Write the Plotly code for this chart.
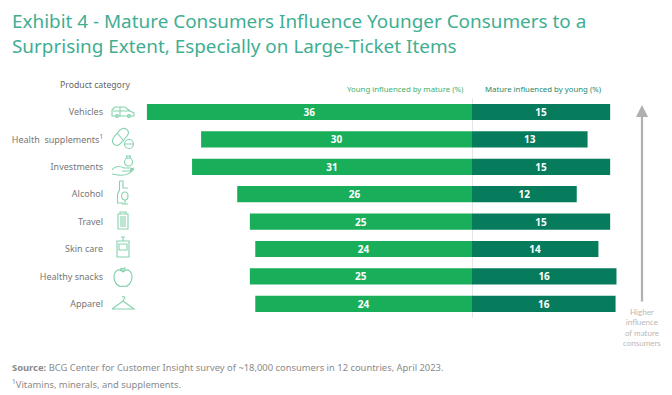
import plotly.graph_objects as go

W, H = 672, 395
categories = ["Vehicles", "Health  supplements<sup>1</sup>", "Investments", "Alcohol", "Travel", "Skin care", "Healthy snacks", "Apparel"]
young_by_mature = [36, 30, 31, 26, 24.6, 24, 24.6, 24]
mature_by_young = [15.3, 12.8, 15.3, 11.6, 15.3, 14, 16, 15.9]
title = "Exhibit 4 - Mature Consumers Influence Younger Consumers to a<br>Surprising Extent, Especially on Large-Ticket Items"
source = "<b>Source:</b> BCG Center for Customer Insight survey of ~18,000 consumers in 12 countries, April 2023."
note = "<sup>1</sup>Vitamins, minerals, and supplements."

FONT = "Noto Sans"
CX, PXU = 472.0, 9.03
PL, PR, PT, PB = 130.0, 632.0, 98.3, 317.5
GREEN, DARK = "#18AE5A", "#067C5C"
ICON = "#86D2AE"


def px(x):
    return x / W


def py(y):
    return 1 - y / H


def path(cmds):
    """Decoration helper: pixel-space outline -> paper coordinates."""
    out = []
    for c in cmds:
        op, pts = c[0], c[1:]
        s = op
        s += " ".join(f"{px(pts[i]):.5f},{py(pts[i + 1]):.5f}" for i in range(0, len(pts), 2))
        out.append(s)
    return " ".join(out)


def circle(cx, cy, r):
    k = r * 0.5523
    return [("M", cx - r, cy), ("C", cx - r, cy - k, cx - k, cy - r, cx, cy - r),
            ("C", cx + k, cy - r, cx + r, cy - k, cx + r, cy),
            ("C", cx + r, cy + k, cx + k, cy + r, cx, cy + r),
            ("C", cx - k, cy + r, cx - r, cy + k, cx - r, cy), ("Z",)]


icons = [
    # car
    [("M", 112, 116), ("L", 112, 110), ("L", 115, 107), ("L", 125, 107), ("L", 130, 111), ("L", 134, 113), ("L", 134, 116), ("Z",),
     ("M", 113, 111), ("L", 130, 111), ("M", 120, 107), ("L", 120, 116)] + circle(117, 116, 1.5) + circle(129, 116, 1.5),
    # pill
    [("M", 114, 137), ("L", 120, 130), ("C", 125, 126, 131, 131, 127, 136), ("L", 120, 144),
     ("C", 115, 148, 110, 142, 114, 137), ("Z",), ("M", 117, 133), ("L", 124, 141)]
    + circle(129, 144, 4.5) + [("M", 125, 144), ("L", 133, 144)],
    # hand + money bag
    [("M", 112, 170), ("C", 116, 165, 120, 166, 124, 168), ("L", 130, 168), ("C", 133, 168, 133, 171, 130, 171),
     ("L", 122, 171), ("M", 130, 170), ("L", 134, 168), ("M", 134, 169), ("C", 130, 174, 124, 176, 118, 175), ("L", 112, 174)]
    + circle(128.5, 162, 4) + [("M", 127, 158), ("L", 126.5, 156), ("L", 130.5, 156), ("L", 130, 158)],
    # bottle + glass
    [("M", 119.5, 181), ("L", 123, 181), ("L", 123, 188), ("L", 128, 188), ("M", 119.5, 181), ("L", 119.5, 190),
     ("L", 117.5, 194), ("L", 117.5, 203), ("L", 123, 203), ("M", 125, 192), ("C", 120, 192, 121, 200, 125, 200),
     ("C", 129, 200, 129, 192, 125, 192), ("M", 125, 200), ("L", 125, 204), ("M", 122, 204), ("L", 128, 204)],
    # suitcase
    [("M", 118, 214), ("L", 128, 214), ("L", 128, 229), ("L", 118, 229), ("Z",), ("M", 120, 214), ("L", 120, 212), ("L", 126, 212), ("L", 126, 214),
     ("M", 121, 216), ("L", 121, 227), ("M", 123, 216), ("L", 123, 227), ("M", 125, 216), ("L", 125, 227)],
    # skin care
    [("M", 117, 241), ("L", 129, 241), ("L", 129, 257), ("L", 117, 257), ("Z",), ("M", 119, 244), ("L", 127, 244), ("L", 127, 250), ("L", 119, 250), ("Z",),
     ("M", 123, 241), ("L", 123, 237), ("M", 121, 237), ("L", 125, 237)],
    # apple
    [("M", 123, 272), ("C", 118, 267, 114, 272, 114, 277), ("C", 114, 283, 119, 288, 123, 286), ("C", 127, 288, 132, 283, 132, 277),
     ("C", 132, 272, 128, 267, 123, 272), ("M", 123, 272), ("L", 121, 268), ("M", 123, 272), ("L", 125, 268), ("L", 120, 269)],
    # hanger
    [("M", 112, 309), ("L", 134, 309), ("L", 123, 301), ("L", 112, 309), ("M", 123, 301), ("L", 124, 299), ("C", 126, 297, 124, 296, 122, 297)],
]

fig = go.Figure()
fig.add_bar(y=categories, x=[-v for v in young_by_mature], orientation="h", marker=dict(color=GREEN, line_width=0),
            text=[f"{round(v)}" for v in young_by_mature], name="Young influenced by mature (%)")
fig.add_bar(y=categories, x=mature_by_young, orientation="h", marker=dict(color=DARK, line_width=0),
            text=[f"{round(v)}" for v in mature_by_young], name="Mature influenced by young (%)")
fig.update_traces(textposition="inside", insidetextanchor="middle", textangle=0, constraintext="none",
                  textfont=dict(family=FONT, size=10, color="white", weight="bold"), hoverinfo="skip")

shapes = [dict(type="path", path=path(p), xref="paper", yref="paper", line=dict(color=ICON, width=1.1), layer="above") for p in icons]


def note_text(text, x, y, size, color, anchor="left", family=FONT):
    return dict(text=text, x=px(x), y=py(y), xref="paper", yref="paper", showarrow=False, xanchor=anchor, yanchor="middle",
                align=anchor, font=dict(family=family, size=size, color=color))


annotations = [
    note_text(title, 9.5, 33, 18.9, "#3FAE92"),
    note_text("Product category", 57.5, 85, 8.7, "#666666"),
    note_text("Young influenced by mature (%)", 465.5, 89, 7.8, "#3DB06E", anchor="right"),
    note_text("Mature influenced by young (%)", 482.5, 89, 7.8, "#1F8A6B"),
    note_text("Higher<br>influence<br>of mature<br>consumers", 642, 327, 8, "#B8B8B8", anchor="center", family="Lato"),
    note_text(source, 9.5, 367, 9.4, "#8A8A8A"),
    note_text(note, 9.5, 384, 9.4, "#8A8A8A"),
    dict(x=px(642), y=py(105), ax=0, ay=198, xref="paper", yref="paper", text="",
         showarrow=True, arrowhead=2, arrowsize=1.1, arrowwidth=2.2, arrowcolor="#B0B0B0"),
]

fig.update_layout(
    width=W, height=H, margin=dict(l=0, r=0, t=0, b=0), autosize=False, paper_bgcolor="white", plot_bgcolor="white",
    barmode="relative", bargap=0.41, showlegend=False, shapes=shapes, annotations=annotations,
    xaxis=dict(domain=[px(PL), px(PR)], range=[(PL - CX) / PXU, (PR - CX) / PXU], showgrid=False, showticklabels=False,
               ticks="", zeroline=True, zerolinecolor="#E6E6E6", zerolinewidth=1, fixedrange=True),
    yaxis=dict(domain=[py(PB), py(PT)], autorange="reversed", showgrid=False, ticks="", showline=False, ticklabelstandoff=26,
               tickfont=dict(family=FONT, size=9, color="#777777"), fixedrange=True),
)
fig.write_html("out.html", post_script="document.body.style.margin='0';", config=dict(displayModeBar=False))
